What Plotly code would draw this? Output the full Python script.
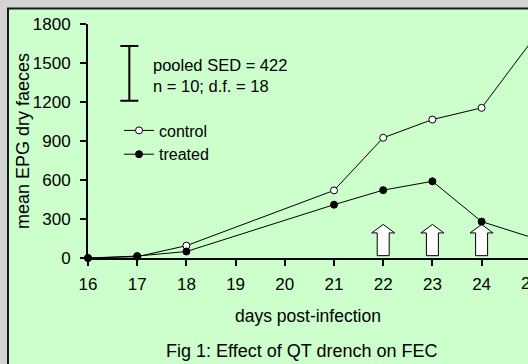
import plotly.graph_objects as go

# ---- data ----
days = [16, 17, 18, 21, 22, 23, 24, 25]
control = [0, 10, 95, 520, 925, 1065, 1155, 1660]
treated = [0, 15, 50, 410, 522, 590, 280, 160]
arrow_days = [22, 23, 24]          # drench days
sed = 422
x_ticks = [16, 17, 18, 19, 20, 21, 22, 23, 24, 25]
y_ticks = [0, 300, 600, 900, 1200, 1500, 1800]

W, H = 528, 364
L, T, B = 88, 24, 106
px_per_day = 49.2
plot_w = W - L
x_end = 16 + plot_w / px_per_day
plot_h = H - T - B
FONT = "Liberation Sans, Arial, sans-serif"

def py2paper(py):
    return (H - B - py) / plot_h

def px2paper(px):
    return (px - L) / plot_w

def day2paper(d):
    return (d - 16) / (x_end - 16)

fig = go.Figure()

fig.add_trace(go.Scatter(
    x=days, y=control, name="control", mode="lines+markers",
    line=dict(color="black", width=1),
    marker=dict(symbol="circle", size=7, color="white", line=dict(color="black", width=1)),
    cliponaxis=False, legendgroup="c"))
fig.add_trace(go.Scatter(
    x=days, y=treated, name="treated", mode="lines+markers",
    line=dict(color="black", width=1),
    marker=dict(symbol="circle", size=7, color="black", line=dict(color="black", width=1)),
    cliponaxis=False, legendgroup="t"))

# pooled SED bar
fig.add_trace(go.Scatter(
    x=[16.84], y=[1420], mode="markers", showlegend=False, hoverinfo="skip",
    marker=dict(size=1, color="rgba(0,0,0,0)"),
    error_y=dict(type="data", array=[sed / 2], color="black", thickness=2, width=9),
    cliponaxis=False))

shapes = []
# green panel with dark border
shapes.append(dict(type="rect", xref="paper", yref="paper", layer="below",
                   x0=px2paper(8), x1=px2paper(W + 20), y0=py2paper(H + 20), y1=py2paper(8.5),
                   fillcolor="#CCFFCC", line=dict(color="#1a1a1a", width=2)))
# drench arrows
sw, hw = 0.122, 0.234   # shaft / head half widths in days
y_bot, y_neck, y_top = 18, 193, 258
for d in arrow_days:
    path = (f"M{d - sw},{y_bot} L{d - sw},{y_neck} L{d - hw},{y_neck} L{d},{y_top} "
            f"L{d + hw},{y_neck} L{d + sw},{y_neck} L{d + sw},{y_bot} Z")
    shapes.append(dict(type="path", xref="x", yref="y", path=path, layer="below",
                       fillcolor="white", line=dict(color="black", width=1)))

annotations = [
    dict(text="pooled SED = 422", xref="paper", yref="paper", x=px2paper(151), y=py2paper(64.5),
         xanchor="left", yanchor="middle", showarrow=False, font=dict(size=16.5, color="black", family=FONT)),
    dict(text="n = 10; d.f. = 18", xref="paper", yref="paper", x=px2paper(151), y=py2paper(86),
         xanchor="left", yanchor="middle", showarrow=False, font=dict(size=16.5, color="black", family=FONT)),
    dict(text="days post-infection", xref="paper", yref="paper", x=0.5, y=py2paper(315.5),
         xanchor="center", yanchor="middle", showarrow=False, font=dict(size=17.5, color="black", family=FONT)),
    dict(text="Fig 1: Effect of QT drench on FEC", xref="paper", yref="paper", x=px2paper(301), y=py2paper(350.5),
         xanchor="center", yanchor="middle", showarrow=False, font=dict(size=18, color="black", family=FONT)),
    dict(text="mean EPG dry faeces", xref="paper", yref="paper", x=px2paper(22.5), y=py2paper(141.5),
         xanchor="center", yanchor="middle", textangle=-90, showarrow=False,
         font=dict(size=18, color="black", family=FONT)),
]
# tick labels falling just past the visible range edge (partly cut off, as in the source)
for t in x_ticks:
    if t > x_end:
        annotations.append(dict(text=str(t), xref="paper", yref="paper", x=day2paper(t), y=py2paper(283.5),
                                xanchor="center", yanchor="middle", showarrow=False,
                                font=dict(size=17, color="black", family=FONT)))

fig.update_layout(
    width=W, height=H,
    margin=dict(l=L, r=0, t=T, b=B, pad=0),
    paper_bgcolor="#d4d4d4",
    plot_bgcolor="rgba(0,0,0,0)",
    font=dict(family=FONT, color="black", size=17),
    showlegend=True,
    legend=dict(x=px2paper(119), y=py2paper(113.5), xanchor="left", yanchor="top",
                bgcolor="rgba(0,0,0,0)", font=dict(size=16, family=FONT, color="black"),
                itemwidth=30, tracegroupgap=0),
    shapes=shapes,
    annotations=annotations,
    xaxis=dict(range=[16, x_end], tickvals=x_ticks, showgrid=False, zeroline=False,
               showline=True, linecolor="black", linewidth=2,
               ticks="outside", ticklen=6, tickwidth=2, tickcolor="black",
               tickfont=dict(size=17), ticklabelstandoff=4),
    yaxis=dict(range=[0, 1800], tickvals=y_ticks, showgrid=False, zeroline=False,
               showline=True, linecolor="black", linewidth=2,
               ticks="outside", ticklen=6, tickwidth=2, tickcolor="black",
               tickfont=dict(size=17), ticklabelstandoff=6),
)

fig.write_html(
    "out.html",
    config={"displayModeBar": False},
    post_script=("document.documentElement.style.margin='0';"
                 "document.body.style.margin='0';"
                 "document.documentElement.style.overflow='hidden';"
                 "document.body.style.overflow='hidden';"),
)
